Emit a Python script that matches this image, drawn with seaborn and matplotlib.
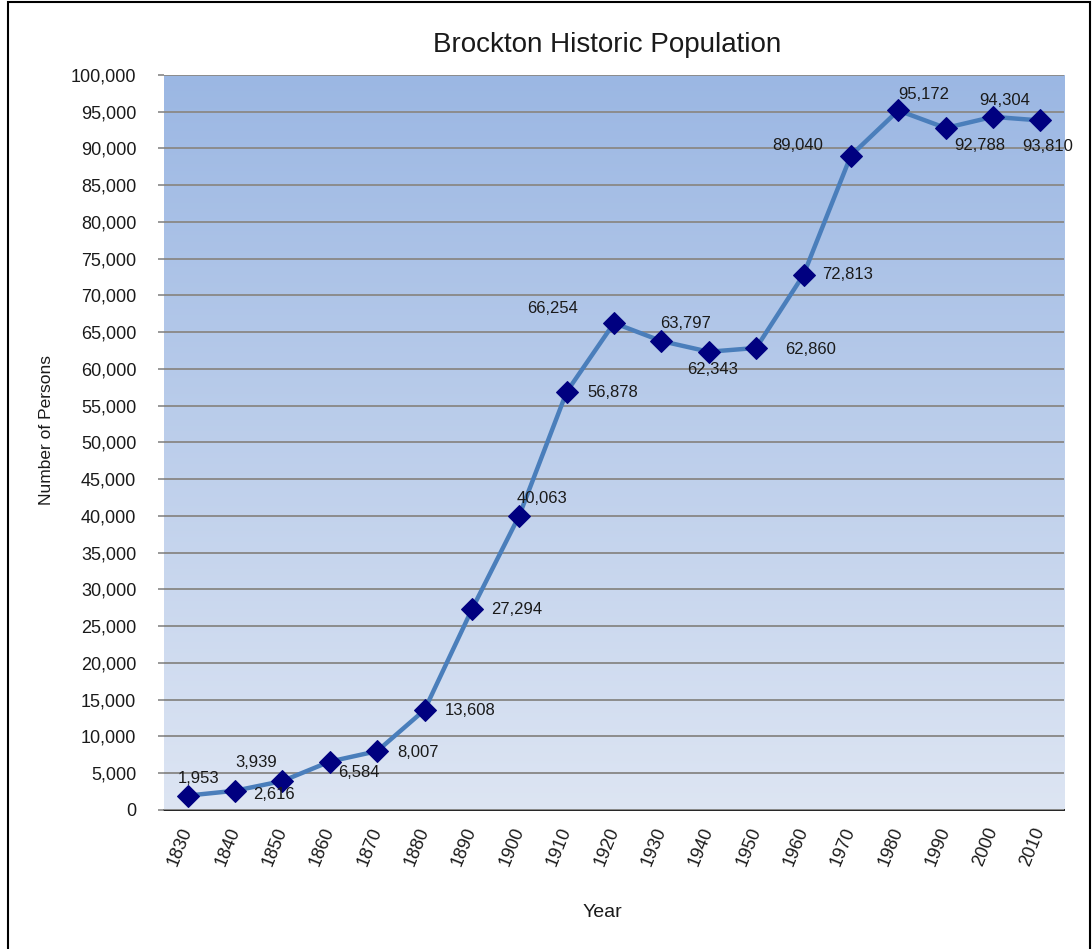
import numpy as np
import pandas as pd
import matplotlib
matplotlib.use("Agg")
import matplotlib.pyplot as plt
import seaborn as sns
from matplotlib.ticker import FuncFormatter, MultipleLocator
from matplotlib.colors import LinearSegmentedColormap
from matplotlib.patches import Rectangle

years = ["1830", "1840", "1850", "1860", "1870", "1880", "1890", "1900", "1910", "1920",
         "1930", "1940", "1950", "1960", "1970", "1980", "1990", "2000", "2010"]
population = [1953, 2616, 3939, 6584, 8007, 13608, 27294, 40063, 56878, 66254,
              63797, 62343, 62860, 72813, 89040, 95172, 92788, 94304, 93810]
# label offsets in pixels (dx, dy up) from each marker, as placed in the original
label_dx = [11, 39, -26, 29, 41, 46, 45, 23, 46, -61, 24, 4, 54, 44, -53, 25, 34, 12, 7]
label_dy = [17, -4, 19, -11, -1, -1, 0, 17, -1, 15, 18, -18, -2, 0, 10, 16, -18, 16, -26]

sns.set_theme(style="white")
plt.rcParams["font.family"] = ["Liberation Sans Narrow", "Liberation Sans", "DejaVu Sans"]

df = pd.DataFrame({"pos": np.arange(len(years)), "year": years, "population": population})

fig = plt.figure(figsize=(10.92, 9.49), dpi=100)
ax = fig.add_axes([0.1502, 0.1465, 0.8242, 0.7745])

# gradient plot area
grad = LinearSegmentedColormap.from_list("bg", ["#dde5f3", "#9bb7e3"])
ax.imshow(np.linspace(0, 1, 256).reshape(-1, 1), cmap=grad, aspect="auto",
          extent=[-0.5, len(years) - 0.5, 0, 100000], origin="lower", zorder=0)

sns.lineplot(data=df, x="pos", y="population", ax=ax, color="#4a7ebb", linewidth=3.2,
             marker="D", markersize=11, markerfacecolor="#000080", markeredgecolor="#000080",
             zorder=3)

for i, (v, dx, dy) in enumerate(zip(population, label_dx, label_dy)):
    ax.annotate(f"{v:,}", (i, v), xytext=(dx * 0.72, dy * 0.72), textcoords="offset points",
                ha="center", va="center", fontsize=12, color="#1a1a1a", zorder=4,
                annotation_clip=False)

ax.set_xlim(-0.5, len(years) - 0.5)
ax.set_ylim(0, 100000)
ax.yaxis.set_major_locator(MultipleLocator(5000))
ax.yaxis.set_major_formatter(FuncFormatter(lambda v, p: f"{int(v):,}"))
ax.set_xticks(range(len(years)))
ax.set_xticklabels(years, rotation=68, ha="right", va="center", rotation_mode="anchor")
ax.tick_params(axis="y", left=True, length=4, width=1.2, color="#888888", labelsize=13, pad=16)
ax.tick_params(axis="x", bottom=False, labelsize=13, pad=7)
for lab in ax.get_xticklabels():
    lab.set_color("#1a1a1a")
for lab in ax.get_yticklabels():
    lab.set_color("#1a1a1a")

ax.grid(axis="y", color="#8c8c8c", linewidth=1.4, zorder=1)
ax.set_axisbelow(False)
for s in ["top", "right", "left"]:
    ax.spines[s].set_visible(False)
ax.spines["bottom"].set_color("#222222")
ax.spines["bottom"].set_linewidth(1.4)
ax.set_xlabel("")
ax.set_ylabel("")

fig.text(0.556, 0.9526, "Brockton Historic Population", ha="center", va="center",
         fontsize=20, color="#1a1a1a")
fig.text(0.552, 0.038, "Year", ha="center", va="center", fontsize=14, color="#1a1a1a")
fig.text(0.043, 0.547, "Number of Persons", ha="center", va="center", rotation=90,
         fontsize=12.5, color="#1a1a1a")

fig.patches.append(Rectangle((0.007, -0.01), 0.991, 1.008, transform=fig.transFigure,
                             fill=False, edgecolor="black", linewidth=1.5))

fig.savefig("out.png", dpi=100)
